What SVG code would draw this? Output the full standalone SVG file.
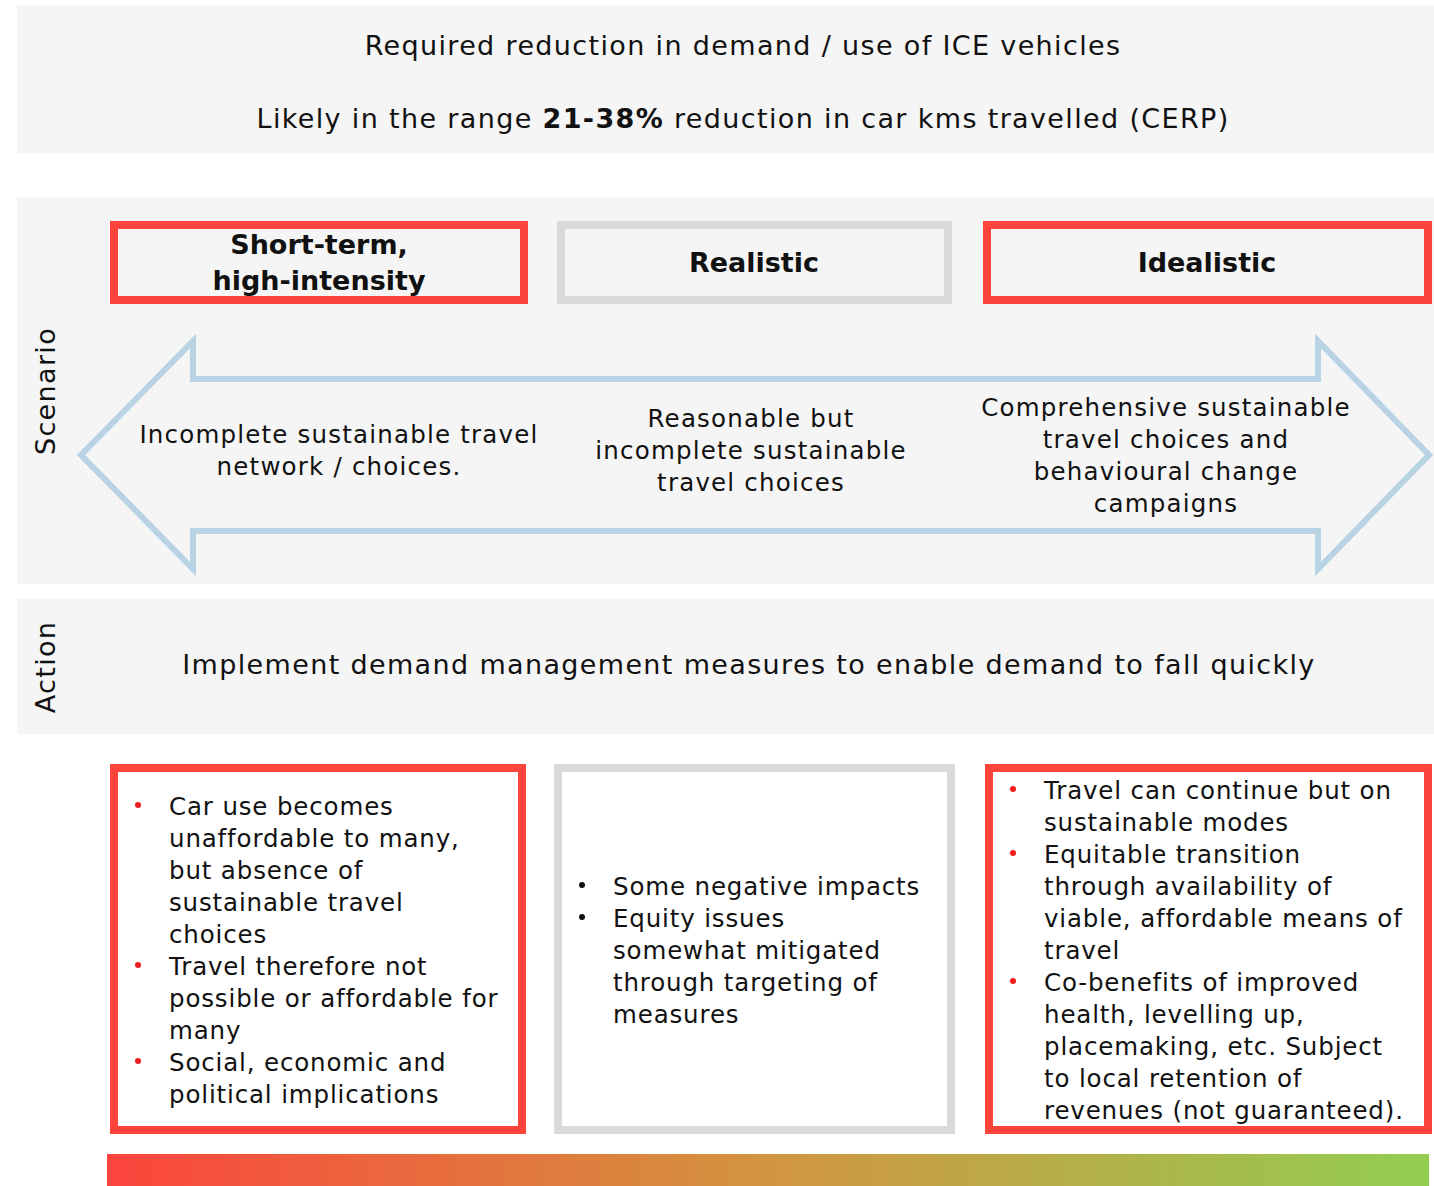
<svg xmlns="http://www.w3.org/2000/svg" width="1434" height="1186" viewBox="0 0 1434 1186">
<style>
text{font-family:"DejaVu Sans","Noto Sans",sans-serif;fill:#111;}
.band{fill:#f5f5f5;}
.t28{font-size:27px;letter-spacing:1.35px;}
.t26{font-size:24.5px;letter-spacing:1.2px;}
.tb{font-size:24.5px;letter-spacing:0.85px;}
.bold{font-weight:bold;font-size:27px;}
.red{fill:none;stroke:#fc443d;stroke-width:8;}
.gray{fill:none;stroke:#d9d9d9;stroke-width:8;}
.bred{fill:#ee1c1c;}
.c{text-anchor:middle;}
</style>
<defs>
<linearGradient id="g" x1="0" y1="0" x2="1" y2="0">
<stop offset="0" stop-color="#fc443d"/>
<stop offset="0.5" stop-color="#d2953f"/>
<stop offset="1" stop-color="#92ce4f"/>
</linearGradient>
</defs>
<rect width="1434" height="1186" fill="#fff"/>
<g id="top">
<rect class="band" x="17" y="5" width="1417" height="148"/>
<text class="t28 c" x="743" y="55">Required reduction in demand / use of ICE vehicles</text>
<text class="t28 c" x="743" y="128">Likely in the range <tspan font-weight="bold">21-38%</tspan> reduction in car kms travelled (CERP)</text>
</g>
<g id="scenario">
<rect class="band" x="17" y="197" width="1417" height="387"/>
<text class="t28 c" transform="translate(55,391) rotate(-90)">Scenario</text>
</g>
<g id="arrow">
<path d="M81,455 L193,341 L193,379 L1318,379 L1318,341 L1429,455 L1318,569 L1318,531 L193,531 L193,569 Z" fill="none" stroke="#b8d3e4" stroke-width="6" stroke-linejoin="miter"/>
<text class="t26 c" x="339" y="443">Incomplete sustainable travel</text>
<text class="t26 c" x="339" y="475">network / choices.</text>
<text class="t26 c" x="751" y="427">Reasonable but</text>
<text class="t26 c" x="751" y="459">incomplete sustainable</text>
<text class="t26 c" x="751" y="491">travel choices</text>
<text class="t26 c" x="1166" y="416">Comprehensive sustainable</text>
<text class="t26 c" x="1166" y="448">travel choices and</text>
<text class="t26 c" x="1166" y="480">behavioural change</text>
<text class="t26 c" x="1166" y="512">campaigns</text>
</g>
<g id="h-short">
<rect class="red" x="114" y="225" width="410" height="75" fill="#fff"/>
<text class="bold c" x="319" y="254">Short-term,</text>
<text class="bold c" x="319" y="290">high-intensity</text>
</g>
<g id="h-real">
<rect class="gray" x="561" y="225" width="387" height="75"/>
<text class="bold c" x="754" y="272">Realistic</text>
</g>
<g id="h-ideal">
<rect class="red" x="987" y="225" width="441" height="75"/>
<text class="bold c" x="1207" y="272">Idealistic</text>
</g>
<g id="action">
<rect class="band" x="17" y="599" width="1417" height="135"/>
<text class="t28 c" transform="translate(55,667) rotate(-90)">Action</text>
<text class="t28 c" x="749" y="674">Implement demand management measures to enable demand to fall quickly</text>
</g>
<g id="box-left">
<rect class="red" x="114" y="768" width="408" height="362" fill="#fff"/>
<g class="tb">
<circle class="bred" cx="138" cy="805" r="3"/>
<circle class="bred" cx="138" cy="965" r="3"/>
<circle class="bred" cx="138" cy="1061" r="3"/>
<text x="169" y="815">Car use becomes</text>
<text x="169" y="847">unaffordable to many,</text>
<text x="169" y="879">but absence of</text>
<text x="169" y="911">sustainable travel</text>
<text x="169" y="943">choices</text>
<text x="169" y="975">Travel therefore not</text>
<text x="169" y="1007">possible or affordable for</text>
<text x="169" y="1039">many</text>
<text x="169" y="1071">Social, economic and</text>
<text x="169" y="1103">political implications</text>
</g>
</g>
<g id="box-mid">
<rect class="gray" x="558" y="768" width="393" height="362" fill="#fff"/>
<g class="tb">
<circle cx="582" cy="885" r="3" fill="#111"/>
<circle cx="582" cy="917" r="3" fill="#111"/>
<text x="613" y="895">Some negative impacts</text>
<text x="613" y="927">Equity issues</text>
<text x="613" y="959">somewhat mitigated</text>
<text x="613" y="991">through targeting of</text>
<text x="613" y="1023">measures</text>
</g>
</g>
<g id="box-right">
<rect class="red" x="989" y="768" width="439" height="362" fill="#fff"/>
<g class="tb">
<circle class="bred" cx="1013" cy="789" r="3"/>
<circle class="bred" cx="1013" cy="853" r="3"/>
<circle class="bred" cx="1013" cy="981" r="3"/>
<text x="1044" y="799">Travel can continue but on</text>
<text x="1044" y="831">sustainable modes</text>
<text x="1044" y="863">Equitable transition</text>
<text x="1044" y="895">through availability of</text>
<text x="1044" y="927">viable, affordable means of</text>
<text x="1044" y="959">travel</text>
<text x="1044" y="991">Co-benefits of improved</text>
<text x="1044" y="1023">health, levelling up,</text>
<text x="1044" y="1055">placemaking, etc. Subject</text>
<text x="1044" y="1087">to local retention of</text>
<text x="1044" y="1119">revenues (not guaranteed).</text>
</g>
</g>
<rect id="scale" x="107" y="1154" width="1322" height="32" fill="url(#g)"/>
</svg>
